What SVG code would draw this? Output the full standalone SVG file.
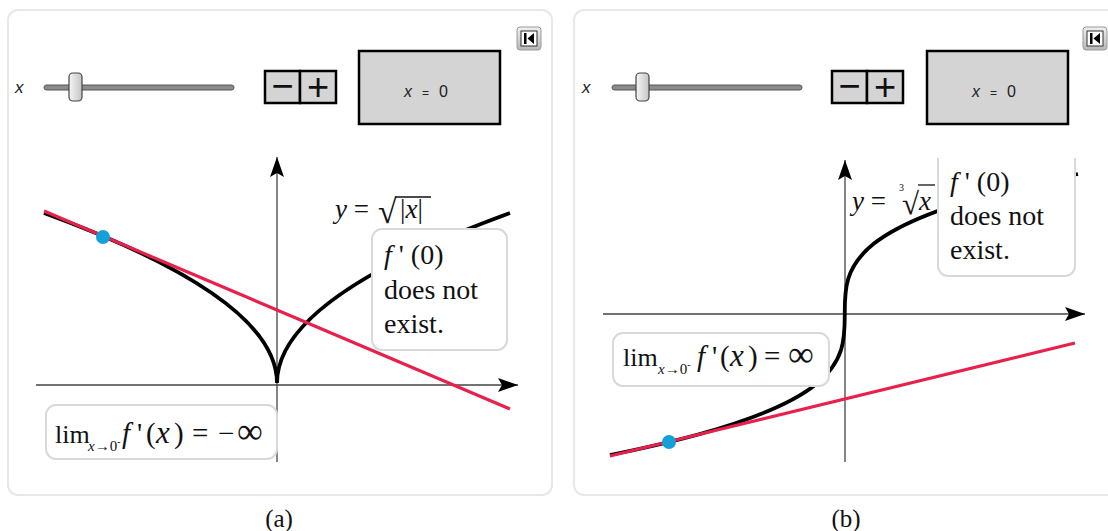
<svg xmlns="http://www.w3.org/2000/svg" width="1108" height="531" viewBox="0 0 1108 531">
<style>
.frame{fill:#fff;stroke:#e8e8e8;stroke-width:2}
.btn{fill:#d4d4d4;stroke:#000;stroke-width:2.5}
.track{fill:#8c8c8c;stroke:#555;stroke-width:1}
.thumb{fill:url(#thumbGrad);stroke:#444;stroke-width:1.2}
.sans{font-family:"Liberation Sans",Arial,sans-serif;fill:#222}
.serif{font-family:"Liberation Serif","Times New Roman",serif;fill:#111}
.it{font-style:italic}
.axis{stroke:#444;stroke-width:1.3;fill:none}
.curve{stroke:#000;stroke-width:3.8;fill:none}
.tangent{stroke:#e8204c;stroke-width:3.2;fill:none}
.dot{fill:#16a0d9}
.callout{fill:#fff;stroke:#d9d9d9;stroke-width:2}
.icon{fill:url(#iconGrad);stroke:#9a9a9a;stroke-width:1}
.pm{font-family:"Liberation Sans",Arial,sans-serif;fill:#111;font-size:38px;text-anchor:middle}
</style>
<defs>
<linearGradient id="thumbGrad" x1="0" x2="1"><stop offset="0" stop-color="#f6f6f6"/><stop offset="1" stop-color="#c4c4c4"/></linearGradient>
<linearGradient id="iconGrad" x1="0" y1="0" x2="0" y2="1"><stop offset="0" stop-color="#f0f0f0"/><stop offset="1" stop-color="#b8b8b8"/></linearGradient>
<marker id="arr" viewBox="0 0 20 14" refX="20" refY="7" markerWidth="20" markerHeight="14" markerUnits="userSpaceOnUse" orient="auto"><path d="M0,0 L20,7 L0,14 L4,7 z" fill="#000"/></marker>
<clipPath id="clipB"><rect x="575" y="158" width="533" height="330"/></clipPath>
</defs>

<!-- Panel (a) -->
<g id="panelA">
<rect class="frame" x="8" y="10" width="544" height="485" rx="10"/>
<g id="controlsA">
<text class="sans it" x="15" y="93" font-size="17">x</text>
<rect class="track" x="44" y="85" width="190" height="5" rx="2.5"/>
<rect class="thumb" x="69" y="73" width="13" height="28" rx="4"/>
<rect class="btn" x="265" y="71" width="35" height="32"/>
<rect class="btn" x="300" y="71" width="36" height="32"/>
<text class="pm" x="282.5" y="99">−</text>
<text class="pm" x="318" y="100">+</text>
<rect class="btn" x="359" y="51" width="141" height="73"/>
<text class="sans" y="97" font-size="16"><tspan class="it" x="404">x</tspan><tspan x="422" font-size="12">=</tspan><tspan x="439">0</tspan></text>
<rect class="icon" x="517" y="27" width="24" height="23" rx="3"/>
<rect x="521" y="31" width="16" height="15" fill="#fff" stroke="#333" stroke-width="1"/>
<rect x="524" y="33" width="2.5" height="11" fill="#000"/>
<polygon points="534,33 534,44 527.5,38.5" fill="#000"/>
</g>
<g id="plotA">
<g id="axesA">
<line class="axis" x1="277" y1="462" x2="277" y2="157" marker-end="url(#arr)"/>
<line class="axis" x1="36" y1="385" x2="518" y2="385" marker-end="url(#arr)"/>
</g>
<path class="curve" d="M44,213 Q277,298 277,383 Q277,298 510,213"/>
<path class="tangent" d="M44,211 L510,409"/>
<circle class="dot" cx="103" cy="237" r="7"/>
<g id="labelA">
<text class="serif" x="335" y="218" font-size="27"><tspan class="it">y</tspan> =</text>
<text class="serif" x="378" y="223" font-size="34">√</text>
<line x1="396" y1="197" x2="431" y2="197" stroke="#111" stroke-width="1.3"/>
<text class="serif" x="400" y="218" font-size="27">|<tspan class="it">x</tspan>|</text>
</g>
<g id="calloutA">
<rect class="callout" x="372" y="229" width="135" height="121" rx="10"/>
<text class="serif" x="384" y="264" font-size="28"><tspan class="it">f</tspan> ' (0)</text>
<text class="serif" x="384" y="299" font-size="28">does not</text>
<text class="serif" x="384" y="333" font-size="28">exist.</text>
</g>
<g id="limA">
<rect class="callout" x="46" y="405" width="231" height="54" rx="10"/>
<text class="serif" x="55" y="443" font-size="26">lim</text>
<text class="serif" x="88" y="451" font-size="15"><tspan class="it">x</tspan>→0<tspan font-size="10" dy="-6">-</tspan></text>
<text class="serif" y="443" font-size="29"><tspan class="it" x="122">f</tspan><tspan x="137">'</tspan><tspan x="146">(</tspan><tspan class="it" x="156" font-size="31">x</tspan><tspan x="174">)</tspan><tspan x="192">=</tspan><tspan x="218">−</tspan><tspan x="237" font-size="36">∞</tspan></text>
</g>
</g>
</g>

<!-- Panel (b) -->
<g id="panelB">
<rect class="frame" x="574" y="10" width="560" height="485" rx="10"/>
<g id="controlsB">
<text class="sans it" x="582" y="93" font-size="17">x</text>
<rect class="track" x="612" y="85" width="190" height="5" rx="2.5"/>
<rect class="thumb" x="636" y="73" width="13" height="28" rx="4"/>
<rect class="btn" x="832" y="71" width="35" height="32"/>
<rect class="btn" x="867" y="71" width="36" height="32"/>
<text class="pm" x="849.5" y="99">−</text>
<text class="pm" x="885" y="100">+</text>
<rect class="btn" x="927" y="51" width="141" height="73"/>
<text class="sans" y="97" font-size="16"><tspan class="it" x="972">x</tspan><tspan x="990" font-size="12">=</tspan><tspan x="1007">0</tspan></text>
<rect class="icon" x="1083" y="27" width="24" height="23" rx="3"/>
<rect x="1087" y="31" width="16" height="15" fill="#fff" stroke="#333" stroke-width="1"/>
<rect x="1090" y="33" width="2.5" height="11" fill="#000"/>
<polygon points="1100,33 1100,44 1093.5,38.5" fill="#000"/>
</g>
<g id="plotB" clip-path="url(#clipB)">
<g id="axesB">
<line class="axis" x1="845" y1="462" x2="845" y2="160" marker-end="url(#arr)"/>
<line class="axis" x1="603" y1="314" x2="1085" y2="314" marker-end="url(#arr)"/>
</g>
<path class="curve" d="M610,455 C1080,361 610,267 1078,174"/>
<path class="tangent" d="M610,456 L1075,343"/>
<circle class="dot" cx="669" cy="442" r="7"/>
<g id="labelB">
<text class="serif" x="852" y="210" font-size="27"><tspan class="it">y</tspan> =</text>
<text class="serif" x="899" y="191" font-size="10">3</text>
<text class="serif" x="902" y="214" font-size="31">√</text>
<line x1="918" y1="185" x2="935" y2="185" stroke="#111" stroke-width="1.3"/>
<text class="serif it" x="919" y="210" font-size="27">x</text>
</g>
<g id="calloutB">
<rect class="callout" x="938" y="140" width="137" height="136" rx="10"/>
<text class="serif" x="950" y="191" font-size="28"><tspan class="it">f</tspan> ' (0)</text>
<text class="serif" x="950" y="225" font-size="28">does not</text>
<text class="serif" x="950" y="259" font-size="28">exist.</text>
</g>
<g id="limB">
<rect class="callout" x="613" y="333" width="216" height="53" rx="10"/>
<text class="serif" x="623" y="366" font-size="26">lim</text>
<text class="serif" x="658" y="374" font-size="15"><tspan class="it">x</tspan>→0<tspan font-size="10" dy="-6">-</tspan></text>
<text class="serif" y="366" font-size="29"><tspan class="it" x="697">f</tspan><tspan x="712">'</tspan><tspan x="720">(</tspan><tspan class="it" x="730" font-size="31">x</tspan><tspan x="748">)</tspan><tspan x="764">=</tspan><tspan x="788" font-size="36">∞</tspan></text>
</g>
</g>
</g>

<g id="captions">
<text class="serif" x="279" y="527" font-size="25" text-anchor="middle">(a)</text>
<text class="serif" x="846" y="527" font-size="25" text-anchor="middle">(b)</text>
</g>
</svg>
